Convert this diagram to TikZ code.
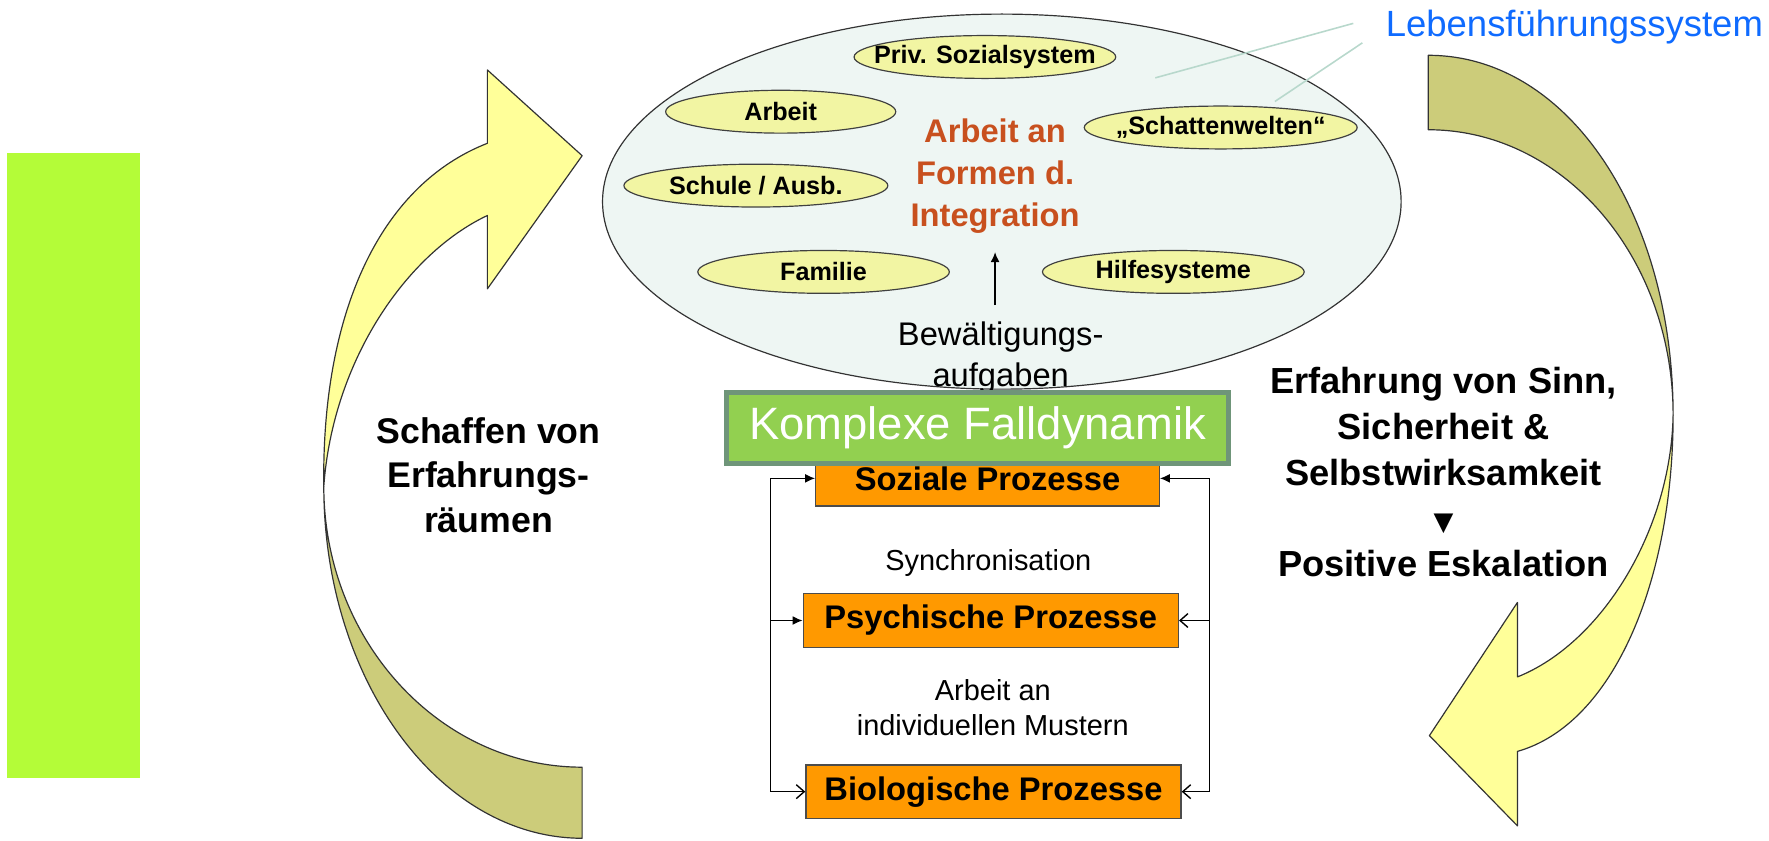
\documentclass[tikz,border=0pt]{standalone}
\usepackage{fontspec}
\setmainfont{Liberation Sans}
\newfontfamily\symbfont{DejaVu Sans}
\definecolor{limeBar}{HTML}{B4FC38}
\definecolor{sysFill}{HTML}{EEF6F3}
\definecolor{subFill}{HTML}{F2F5A3}
\definecolor{redText}{HTML}{C8501E}
\definecolor{blueText}{HTML}{0F6BFF}
\definecolor{leaf}{HTML}{92D050}
\definecolor{leafEdge}{HTML}{6F9579}
\definecolor{procFill}{HTML}{FF9900}
\definecolor{arrYellow}{HTML}{FFFF99}
\definecolor{arrOlive}{HTML}{CCCC7A}
\definecolor{tealLine}{HTML}{B8D8CC}
\usepackage{tikz}
\usetikzlibrary{arrows.meta, shapes.geometric}

\begin{document}
\begin{tikzpicture}[x=0.02cm, y=-0.02cm,
  band/.style={draw=black!80, line width=0.6pt, line join=round},
  sub/.style={ellipse, draw=black!75, line width=0.6pt, fill=subFill, minimum height=0.76cm, inner sep=0pt, font=\fontsize{12.7}{15}\selectfont\bfseries},
  proc/.style={rectangle, draw=black!70, line width=0.7pt, fill=procFill, minimum height=0.95cm, inner sep=0pt, font=\fontsize{16.5}{19}\selectfont\bfseries},
  note/.style={align=center, inner sep=0pt},
  conn/.style={line width=0.7pt},
  fillhead/.style={conn, -{Latex[length=5pt, width=4.5pt]}},
  openhead/.style={conn, -{Straight Barb[length=4pt, width=7pt]}},
  pointer/.style={tealLine, line width=0.8pt}]
  \useasboundingbox (0,0) rectangle (1568,745);

  % lime bar on the left
  \fill[limeBar] (6,136) rectangle (124,690);

  % left cycle arrow (back part olive, front part with head yellow)
  \filldraw[band, fill=arrOlive] (287,431) .. controls (287,603) and (390,743) .. (516,743)
    -- (516,680) .. controls (390,680) and (287,568) .. (287,431) -- cycle;
  \filldraw[band, fill=arrYellow] (287,431) .. controls (295,320) and (360,225) .. (432,191)
    -- (432,256) -- (516,138) -- (432,62) -- (432,127)
    .. controls (335,165) and (285,280) .. (287,431) -- cycle;

  % right cycle arrow
  \filldraw[band, fill=arrOlive] (1266,49) .. controls (1390,49) and (1483,190) .. (1483,368)
    .. controls (1483,228) and (1386,115) .. (1266,115) -- cycle;
  \filldraw[band, fill=arrYellow] (1483,368) .. controls (1483,515) and (1430,642) .. (1345,666)
    -- (1345,732) -- (1267,652) -- (1345,534) -- (1345,600)
    .. controls (1420,570) and (1481,470) .. (1483,368) -- cycle;

  % life system
  \node[ellipse, draw=black!80, line width=0.6pt, fill=sysFill, minimum width=14.16cm, minimum height=6.65cm, inner sep=0pt] (sys) at (888,178.7) {};
  \foreach \n/\x/\y/\w/\t in {priv/873/50.5/4.64/{Priv. Sozialsystem}, arb/692/99/4.08/Arbeit,
      schat/1082/113/4.84/{„Schattenwelten“}, schul/670/164.5/4.68/{Schule / Ausb.},
      fam/730/241/4.46/Familie, hilf/1040/241/4.64/Hilfesysteme}{
    \node[sub, minimum width=\w cm] (\n) at (\x,\y) {\makebox[0pt]{\t}};}
  \node[note, text=redText, font=\fontsize{16.5}{21.2}\selectfont\bfseries] (integ) at (882,156.5) {Arbeit an\\Formen d.\\Integration};
  \node[note, font=\fontsize{16.5}{20.9}\selectfont] (bew) at (887,316.7) {Bewältigungs-\\aufgaben};
  \draw[fillhead, shorten <=8pt, shorten >=9pt] (bew.north -| integ.south) -- (integ.south);

  \node[font=\fontsize{18.4}{22}\selectfont, text=blueText, inner sep=0pt] (leb) at (1395.5,24) {Lebensführungssystem};
  \coordinate (leb1) at (1024,69);
  \coordinate (leb2) at (1130,90);
  \draw[pointer] ([xshift=-0.57cm, yshift=0.066cm]leb.west) -- (leb1);
  \draw[pointer] ([xshift=-0.41cm, yshift=-0.28cm]leb.west) -- (leb2);

  % processes
  \node[proc, minimum width=6.09cm, minimum height=0.98cm] (soz) at (875.3,424) {Soziale Prozesse};
  \node[proc, minimum width=6.65cm] (psy) at (878.2,550) {Psychische Prozesse};
  \node[proc, minimum width=6.65cm] (bio) at (880.6,701.7) {Biologische Prozesse};
  \node[note, font=\fontsize{14.6}{17.6}\selectfont] (sync) at (876,499) {Synchronisation};
  \node[note, font=\fontsize{14.6}{17.6}\selectfont] (must) at (880,627) {Arbeit an\\individuellen Mustern};

  \coordinate (lbus) at (683,0);
  \coordinate (rbus) at (1072,0);
  \draw[conn] (lbus |- soz.west) -- (lbus |- bio.west);
  \draw[conn] (rbus |- soz.east) -- (rbus |- bio.east);
  \draw[fillhead] (lbus |- soz.west) -- (soz.west);
  \draw[fillhead] (lbus |- psy.west) -- (psy.west);
  \draw[openhead] (lbus |- bio.west) -- (bio.west);
  \draw[fillhead] (rbus |- soz.east) -- (soz.east);
  \draw[openhead] (rbus |- psy.east) -- (psy.east);
  \draw[openhead] (rbus |- bio.east) -- (bio.east);

  \node[rectangle, draw=leafEdge, line width=2.3pt, fill=leaf, minimum width=8.9cm, minimum height=1.265cm, inner sep=0pt, text=white, font=\fontsize{22.9}{26}\selectfont] (fall) at (866.5,379.4) {Komplexe Falldynamik};

  % side texts
  \node[note, font=\fontsize{18}{22.5}\selectfont\bfseries] (raum) at (433,421) {Schaffen von\\Erfahrungs-\\räumen};
  \node[note, font=\fontsize{18.3}{23}\selectfont\bfseries] (sinn) at (1279.5,418.5) {Erfahrung von Sinn,\\Sicherheit \&\\Selbstwirksamkeit\\{\symbfont\fontsize{13}{23}\selectfont ▼}\\Positive Eskalation};
\end{tikzpicture}
\end{document}
